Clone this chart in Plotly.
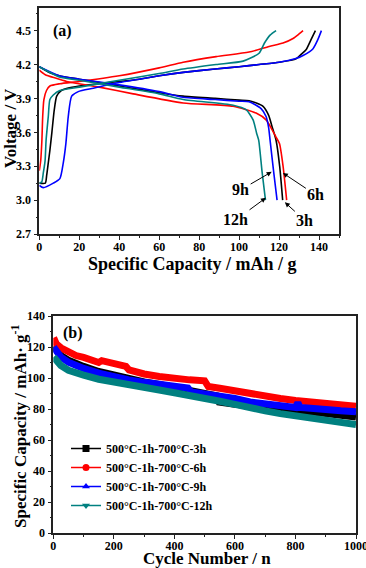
import plotly.graph_objects as go

# ---------------- Panel (a): charge/discharge curves ----------------
# 3h (black)
cap_3h_ch = [0, 3, 3.7, 4.5, 5.3, 6.3, 7.5, 8.7, 11, 14, 20, 30, 40, 50, 60, 72, 88, 100, 110, 120, 128.5, 131, 133.5, 136, 138.2]
v_3h_ch = [3.15, 3.15, 3.22, 3.33, 3.44, 3.6, 3.8, 3.92, 3.97, 3.99, 4.01, 4.03, 4.05, 4.07, 4.1, 4.13, 4.16, 4.18, 4.2, 4.22, 4.25, 4.29, 4.33, 4.42, 4.5]
cap_3h_dis = [0, 5, 10, 20, 30, 40, 50, 60, 72, 88, 100, 105, 112, 114.8, 116.5, 118.5, 120.3, 121.8]
v_3h_dis = [4.18, 4.13, 4.10, 4.07, 4.04, 4.01, 3.98, 3.95, 3.92, 3.9, 3.885, 3.88, 3.83, 3.75, 3.65, 3.53, 3.3, 3.0]

# 6h (red)
cap_6h_ch = [0, 0.7, 1.3, 1.7, 2.3, 3.6, 5.3, 10.3, 20, 40, 60, 72, 88.5, 105, 115, 122, 127, 130, 132]
v_6h_ch = [3.26, 3.35, 3.53, 3.74, 3.89, 3.97, 4.01, 4.03, 4.05, 4.10, 4.17, 4.22, 4.27, 4.31, 4.36, 4.39, 4.43, 4.47, 4.5]
cap_6h_dis = [0, 3, 8, 13.7, 30, 47, 72, 97, 108.5, 113.5, 116, 118.4, 120.2, 122, 123.8]
v_6h_dis = [4.15, 4.11, 4.08, 4.05, 4.0, 3.94, 3.86, 3.83, 3.77, 3.71, 3.64, 3.56, 3.5, 3.3, 3.0]

# 9h (blue)
cap_9h_ch = [0, 2, 7, 10.3, 12, 13.3, 14.5, 16.2, 19.5, 27, 40, 50, 60, 72, 88, 100, 110, 120, 128, 132, 137, 139.4, 141.2]
v_9h_ch = [3.13, 3.11, 3.15, 3.19, 3.33, 3.5, 3.74, 3.92, 3.96, 3.99, 4.04, 4.07, 4.1, 4.13, 4.16, 4.18, 4.2, 4.22, 4.25, 4.28, 4.34, 4.42, 4.5]
cap_9h_dis = [0, 10, 20, 40, 60, 72, 88, 100, 105, 111, 113.5, 114.8, 115.5, 117.3, 119]
v_9h_dis = [4.18, 4.10, 4.07, 4.02, 3.96, 3.91, 3.89, 3.875, 3.87, 3.81, 3.74, 3.64, 3.53, 3.25, 3.0]

# 12h (teal)
cap_12h_ch = [0, 1.2, 2, 2.9, 3.4, 4.5, 5.3, 7, 10.3, 20, 40, 60, 72, 88.5, 102, 110, 112.7, 115.5, 118.5]
v_12h_ch = [3.15, 3.16, 3.24, 3.35, 3.53, 3.74, 3.89, 3.93, 3.97, 4.0, 4.06, 4.12, 4.16, 4.2, 4.23, 4.3, 4.39, 4.46, 4.5]
cap_12h_dis = [0, 10, 20, 40, 60, 72, 97, 103.5, 107, 108.8, 109.8, 111.5, 113.2]
v_12h_dis = [4.18, 4.09, 4.06, 4.0, 3.94, 3.89, 3.84, 3.80, 3.71, 3.59, 3.53, 3.25, 3.0]

# ---------------- Panel (b): cycling ----------------
cyc_3h = [1, 10, 25, 50, 75, 100, 150, 200, 250, 300, 350, 400, 450, 500, 540, 548, 600, 650, 700, 750, 800, 850, 900, 950, 1000]
cap_3h = [120.5, 117.5, 114.5, 111.5, 109.2, 107.5, 104.2, 101.8, 99.5, 97.5, 95.8, 94.2, 92, 90, 88.5, 84.5, 83, 81.8, 80.8, 80.2, 79.3, 78.2, 76.7, 75.8, 74.8]

cyc_6h = [1, 10, 25, 50, 75, 100, 125, 150, 160, 200, 240, 250, 275, 300, 350, 400, 450, 500, 512, 550, 600, 650, 700, 750, 800, 850, 900, 950, 1000]
cap_6h = [126, 122, 119.5, 116.5, 114.5, 113.3, 111.5, 110, 111.2, 109.8, 107.5, 105.2, 103.8, 102.6, 101, 99.5, 98.8, 98.2, 94.5, 93.4, 91.5, 89.5, 87.8, 86.8, 85.5, 84.8, 83.8, 82.8, 81.8]

cyc_9h = [1, 10, 25, 50, 75, 100, 150, 200, 250, 300, 350, 400, 445, 455, 500, 550, 600, 650, 700, 750, 800, 808, 815, 850, 900, 950, 1000]
cap_9h = [120, 117, 113.5, 110.2, 108, 106.2, 103.2, 100.8, 98.7, 97.2, 95.6, 94.5, 93.5, 91, 89.8, 88.3, 86.8, 84.5, 83, 82, 81, 84, 81, 80.5, 79.3, 78.8, 78.2]

cyc_12h = [1, 10, 25, 50, 75, 100, 150, 200, 250, 300, 350, 400, 450, 500, 550, 600, 650, 700, 750, 800, 850, 900, 950, 1000]
cap_12h = [113.5, 111, 108, 105, 103.2, 101.9, 99.2, 97.2, 95.3, 93.8, 92.3, 90.5, 89, 87.3, 85, 83, 80.5, 78.8, 77, 75.5, 74.2, 72.7, 71.3, 70]

names = ["500°C-1h-700°C-3h", "500°C-1h-700°C-6h", "500°C-1h-700°C-9h", "500°C-1h-700°C-12h"]
colors = ["#000000", "#FF0000", "#0000FF", "#008080"]
symbols = ["square", "circle", "triangle-up", "triangle-down"]

FONT = "Liberation Serif, Times New Roman, serif"
W, H = 366, 568

fig = go.Figure()

panel_a = [
    (cap_3h_ch, v_3h_ch, cap_3h_dis, v_3h_dis),
    (cap_6h_ch, v_6h_ch, cap_6h_dis, v_6h_dis),
    (cap_9h_ch, v_9h_ch, cap_9h_dis, v_9h_dis),
    (cap_12h_ch, v_12h_ch, cap_12h_dis, v_12h_dis),
]
for (xc, yc, xd, yd), col in zip(panel_a, colors):
    for xs, ys in ((xc, yc), (xd, yd)):
        fig.add_trace(go.Scatter(x=xs, y=ys, mode="lines", line=dict(color=col, width=1.6, shape="spline", smoothing=0.6),
                                 showlegend=False, xaxis="x", yaxis="y", hoverinfo="skip"))

panel_b = [(cyc_3h, cap_3h), (cyc_6h, cap_6h), (cyc_9h, cap_9h), (cyc_12h, cap_12h)]
for (xs, ys), col in zip(panel_b, colors):
    fig.add_trace(go.Scatter(x=xs, y=ys, mode="lines", line=dict(color=col, width=7),
                             showlegend=False, xaxis="x2", yaxis="y2"))
for nm, col, sym in zip(names, colors, symbols):
    fig.add_trace(go.Scatter(x=[None], y=[None], mode="lines+markers", name=nm,
                             line=dict(color=col, width=1.5), marker=dict(color=col, symbol=sym, size=7),
                             xaxis="x2", yaxis="y2"))

axis_common = dict(showline=True, mirror=True, linecolor="#222", linewidth=1.6, ticks="outside",
                   ticklen=4, tickwidth=1.3, tickcolor="#222", showgrid=False, zeroline=False,
                   ticklabeloverflow="allow",
                   tickfont=dict(family=FONT, size=12, color="black", weight="bold"), automargin=False)

def px_x(p):
    return p / W

def px_y(p):
    return 1 - p / H

minor = lambda d: dict(dtick=d, ticks="outside", ticklen=2, tickwidth=1, tickcolor="#222")

fig.update_layout(
    width=W, height=H, margin=dict(l=0, r=0, t=0, b=0),
    paper_bgcolor="white", plot_bgcolor="white", template="none",
    xaxis=dict(domain=[px_x(39.3), px_x(339)], range=[0, 150], anchor="y", tick0=0, dtick=20,
               minor=minor(10), ticklabelstandoff=-3, **axis_common),
    yaxis=dict(domain=[px_y(234), px_y(8)], range=[2.7, 4.7], anchor="x", tick0=2.7, dtick=0.3, tickformat=".1f",
               minor=minor(0.15), **axis_common),
    xaxis2=dict(domain=[px_x(53.3), px_x(356)], range=[0, 1000], anchor="y2", tick0=0, dtick=200,
                minor=minor(100), ticklabelstandoff=-3, **axis_common),
    yaxis2=dict(domain=[px_y(533), px_y(316)], range=[0, 140], anchor="x2", tick0=0, dtick=20,
                minor=minor(10), **axis_common),
    legend=dict(x=px_x(66), y=px_y(434), xanchor="left", yanchor="top", bgcolor="rgba(0,0,0,0)",
                font=dict(family=FONT, size=12, color="black", weight="bold"), tracegroupgap=0),
    showlegend=True,
)

def tf(size):
    return dict(family=FONT, size=size, color="black", weight="bold")

anns = [
    dict(text="Specific Capacity / mAh / g", x=px_x(192), y=px_y(264), font=tf(18)),
    dict(text="Voltage / V", x=px_x(10), y=px_y(128), textangle=-90, font=tf(17)),
    dict(text="Cycle Number / n", x=px_x(207), y=px_y(558.5), font=tf(17)),
    dict(text="Specific Capacity / mAh· g<sup>-1</sup>", x=px_x(19), y=px_y(426), textangle=-90, font=tf(17)),
]
for a in anns:
    a.update(xref="paper", yref="paper", xanchor="center", yanchor="middle", showarrow=False)
anns += [
    dict(text="(a)", x=11.4, y=4.5, xref="x", yref="y", showarrow=False, font=tf(16)),
    dict(text="(b)", x=65, y=129, xref="x2", yref="y2", showarrow=False, font=tf(16)),
]
for txt, hx, hy, ax, ay in [("6h", 121.9, 3.24, 33, 22), ("9h", 116.3, 3.25, -31, 18),
                             ("12h", 113.4, 3.02, -30, 22), ("3h", 122.9, 2.98, 20, 18)]:
    anns.append(dict(text=txt, x=hx, y=hy, xref="x", yref="y", ax=ax, ay=ay, showarrow=True,
                     arrowhead=2, arrowsize=1, arrowwidth=1, arrowcolor="black", font=tf(16)))
fig.update_layout(annotations=anns)

fig.write_html("out.html")
